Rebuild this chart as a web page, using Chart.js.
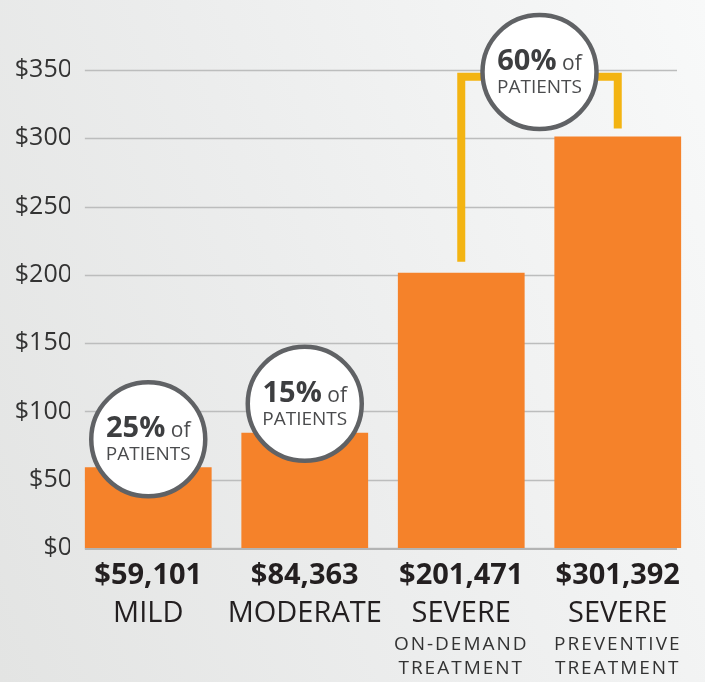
<!DOCTYPE html>
<html>
<head>
<meta charset="utf-8">
<script src="https://cdn.jsdelivr.net/npm/chart.js@4.4.1/dist/chart.umd.min.js"></script>
<style>
    body { margin: 0; }
    #wrap {
        width: 705px;
        height: 682px;
        background: linear-gradient(70deg, #e3e4e3 0%, #eceded 45%, #f8f9f9 100%);
    }
</style>
</head>
<body>
<div id="wrap"><canvas id="cost-chart" width="705" height="682"></canvas></div>
<script>
// =======================
// Data
// =======================
const severity = ['MILD', 'MODERATE', 'SEVERE', 'SEVERE'];
const treatment = [[], [], ['ON-DEMAND', 'TREATMENT'], ['PREVENTIVE', 'TREATMENT']];
const annualCost = [59101, 84363, 201471, 301392];
const yTicks = [0, 50, 100, 150, 200, 250, 300, 350];
// share of patients: mild, moderate, severe (spans both severe bars)
const patientShare = [25, 15, 60];

const FONT = "'Open Sans', 'Noto Sans', sans-serif";

// =======================
// Drawing helpers
// =======================
function drawBadge(ctx, cx, cy, pct) {
    ctx.save();
    ctx.beginPath();
    ctx.arc(cx, cy, 57, 0, Math.PI * 2);
    ctx.fillStyle = '#ffffff';
    ctx.fill();
    ctx.lineWidth = 4.5;
    ctx.strokeStyle = '#606265';
    ctx.stroke();

    const big = pct + '%';
    const small = ' of';
    ctx.textBaseline = 'alphabetic';
    ctx.font = 'bold 29px ' + FONT;
    const w1 = ctx.measureText(big).width;
    ctx.font = '21px ' + FONT;
    const w2 = ctx.measureText(small).width;
    let x = cx - (w1 + w2) / 2;
    ctx.textAlign = 'left';
    ctx.fillStyle = '#3d3e40';
    ctx.font = 'bold 29px ' + FONT;
    ctx.fillText(big, x, cy - 2);
    ctx.fillStyle = '#4a4b4d';
    ctx.font = '21px ' + FONT;
    ctx.fillText(small, x + w1, cy - 2);
    ctx.textAlign = 'center';
    ctx.font = '19px ' + FONT;
    ctx.fillText('PATIENTS', cx, cy + 21);
    ctx.restore();
}

const overlay = {
    id: 'overlay',
    beforeDatasetsDraw(chart) {
        const { ctx, scales: { y }, chartArea } = chart;
        const bars = chart.getDatasetMeta(0).data;
        const left = bars[0].x - bars[0].width / 2;
        ctx.save();
        ctx.strokeStyle = '#bcbdbd';
        ctx.lineWidth = 1.5;
        yTicks.forEach(t => {
            const py = Math.round(y.getPixelForValue(t)) + 0.5;
            ctx.beginPath();
            ctx.moveTo(left, py);
            ctx.lineTo(chartArea.right - 19, py);
            ctx.stroke();
        });
        ctx.restore();
    },
    afterDatasetsDraw(chart) {
        const { ctx, scales: { y }, chartArea } = chart;
        const bars = chart.getDatasetMeta(0).data;

        // baseline
        ctx.save();
        ctx.strokeStyle = '#b3b4b4';
        ctx.lineWidth = 2;
        const base = y.getPixelForValue(0) + 1;
        ctx.beginPath();
        ctx.moveTo(bars[0].x - bars[0].width / 2, base);
        ctx.lineTo(chartArea.right - 19, base);
        ctx.stroke();

        // bracket joining the two severe bars
        const top = y.getPixelForValue(345);
        ctx.strokeStyle = '#f3b412';
        ctx.lineWidth = 8;
        ctx.lineJoin = 'miter';
        ctx.beginPath();
        ctx.moveTo(bars[2].x, bars[2].y - 11);
        ctx.lineTo(bars[2].x, top);
        ctx.lineTo(bars[3].x, top);
        ctx.lineTo(bars[3].x, bars[3].y - 8);
        ctx.stroke();
        ctx.restore();

        // badges
        drawBadge(ctx, bars[0].x, bars[0].y - 28, patientShare[0]);
        drawBadge(ctx, bars[1].x, bars[1].y - 29, patientShare[1]);
        drawBadge(ctx, (bars[2].x + bars[3].x) / 2, y.getPixelForValue(348.5), patientShare[2]);

        // category labels under the bars
        ctx.save();
        ctx.textAlign = 'center';
        ctx.textBaseline = 'alphabetic';
        bars.forEach((bar, i) => {
            const x = bar.x;
            ctx.fillStyle = '#231f20';
            ctx.font = 'bold 29px ' + FONT;
            ctx.fillText('$' + annualCost[i].toLocaleString('en-US'), x, 584);
            ctx.font = '29px ' + FONT;
            ctx.fillText(severity[i], x, 622);
            ctx.fillStyle = '#333333';
            ctx.font = '19px ' + FONT;
            ctx.letterSpacing = '2px';
            treatment[i].forEach((line, j) => {
                ctx.fillText(line, x, 650 + j * 24);
            });
            ctx.letterSpacing = '0px';
        });
        ctx.restore();
    }
};

// =======================
// The Bar Chart
// =======================
const costCanvas = document.querySelector('#cost-chart');
const costData = {
    labels: severity,
    datasets: [{
        data: annualCost.map(v => v / 1000),
        backgroundColor: '#f5822a',
        borderWidth: 0,
        barPercentage: 0.81,
        categoryPercentage: 1
    }]
};
const costOptions = {
    responsive: false,
    animation: false,
    layout: {
        padding: { top: 70, right: 9, bottom: 134, left: 0 }
    },
    scales: {
        x: {
            display: false
        },
        y: {
            min: 0,
            max: 350,
            afterFit: scale => { scale.width = 70; },
            afterBuildTicks: scale => {
                scale.ticks = yTicks.map(v => ({ value: v }));
            },
            border: { display: false },
            grid: { display: false, drawTicks: false },
            ticks: {
                padding: -2,
                color: '#333333',
                font: { family: FONT, size: 25 },
                callback: v => '$' + v
            }
        }
    },
    plugins: {
        legend: { display: false },
        tooltip: { enabled: false }
    }
};
let costChart = new Chart(costCanvas, {
    type: 'bar',
    data: costData,
    options: costOptions,
    plugins: [overlay]
});
</script>
</body>
</html>
